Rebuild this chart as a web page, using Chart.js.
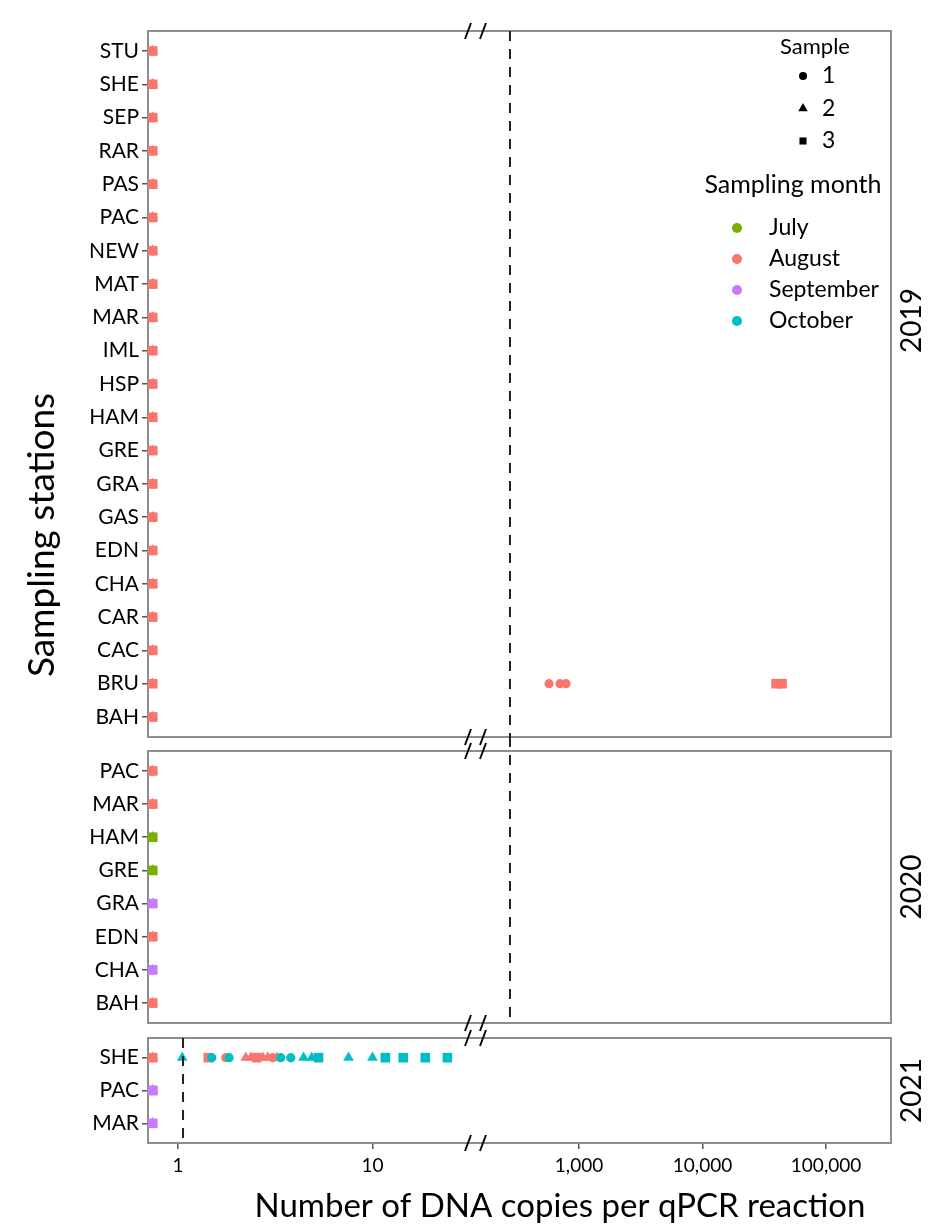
<!DOCTYPE html>
<html lang="en">
<head>
<meta charset="UTF-8">
<title>DNA copies per qPCR reaction</title>
<script src="https://cdn.jsdelivr.net/npm/chart.js"></script>
<style>
  html, body { margin: 0; padding: 0; background: #fff; }
</style>
</head>
<body>
<canvas id="grafico" width="948" height="1231"></canvas>
<script>
// ---- data ----
const years = ['2019', '2020', '2021'];
const stations2019 = ['STU', 'SHE', 'SEP', 'RAR', 'PAS', 'PAC', 'NEW', 'MAT', 'MAR', 'IML', 'HSP',
                      'HAM', 'GRE', 'GRA', 'GAS', 'EDN', 'CHA', 'CAR', 'CAC', 'BRU', 'BAH'];
const stations2020 = ['PAC', 'MAR', 'HAM', 'GRE', 'GRA', 'EDN', 'CHA', 'BAH'];
const stations2021 = ['SHE', 'PAC', 'MAR'];

const months = ['July', 'August', 'September', 'October'];
const monthColors = ['#7CAE00', '#F8766D', '#C77CFF', '#00BFC4'];
const samples = [1, 2, 3];
const sampleShapes = ['circle', 'triangle', 'rect'];

// broken x axis: low part and high part
const ticksLow = [1, 10];
const ticksHigh = [1000, 10000, 100000];
const rangeLow = [0.71, 34.1];
const rangeHigh = [146.5, 335700];

// no detection: drawn on the left edge of the axis  [station, month]
const EDGE = 0.74;
const zeros2019 = stations2019.map(s => [s, 'August']);
const zeros2020 = [['PAC', 'August'], ['MAR', 'August'], ['HAM', 'July'], ['GRE', 'July'],
                   ['GRA', 'September'], ['EDN', 'August'], ['CHA', 'September'], ['BAH', 'August']];
const zeros2021 = [['SHE', 'August'], ['PAC', 'August'], ['PAC', 'September'], ['MAR', 'September']];

// detections  [station, month, sample, copies]
const hits2019 = [
  ['BRU', 'August', 1, 572], ['BRU', 'August', 1, 702], ['BRU', 'August', 1, 785],
  ['BRU', 'August', 3, 39400], ['BRU', 'August', 3, 44000]
];
const hits2020 = [];
const hits2021 = [
  ['SHE', 'October', 2, 1.05],
  ['SHE', 'August', 3, 1.43], ['SHE', 'October', 1, 1.49],
  ['SHE', 'August', 1, 1.76], ['SHE', 'October', 1, 1.83],
  ['SHE', 'August', 2, 2.23], ['SHE', 'August', 2, 2.37], ['SHE', 'August', 3, 2.54],
  ['SHE', 'August', 2, 2.73], ['SHE', 'August', 2, 2.89], ['SHE', 'August', 1, 3.07],
  ['SHE', 'August', 2, 3.22],
  ['SHE', 'October', 1, 3.37], ['SHE', 'October', 1, 3.80],
  ['SHE', 'October', 2, 4.42], ['SHE', 'October', 2, 4.87], ['SHE', 'October', 3, 5.28],
  ['SHE', 'October', 2, 7.53], ['SHE', 'October', 2, 10.0],
  ['SHE', 'October', 3, 11.65], ['SHE', 'October', 3, 14.4], ['SHE', 'October', 3, 18.7],
  ['SHE', 'October', 3, 24.3]
];

// dashed threshold per year
const thresholds = [276, 276, 1.06];

// ---- datasets ----
const FONT = 'Lato, "Open Sans", sans-serif';
const yearZeros = [zeros2019, zeros2020, zeros2021];
const yearHits = [hits2019, hits2020, hits2021];

function pointSize(shape) {
  if (shape === 'circle') return 4.6;
  if (shape === 'triangle') return 6.2;
  return 6.8;
}

function makeSet(year, xAxisID, month, si, data) {
  const color = monthColors[months.indexOf(month)];
  const shape = sampleShapes[si];
  return {
    label: year + ' ' + month + ' sample ' + samples[si],
    xAxisID: xAxisID,
    yAxisID: 'y' + year,
    data: data,
    pointStyle: shape,
    pointRadius: pointSize(shape),
    pointBorderWidth: 0,
    backgroundColor: color,
    borderColor: color,
    showLine: false,
    clip: false
  };
}

const datasets = [];
years.forEach((year, yi) => {
  months.forEach(month => {
    const rows = yearZeros[yi].filter(r => r[1] === month);
    if (!rows.length) return;
    samples.forEach((smp, si) => {
      datasets.push(makeSet(year, 'xLo', month, si, rows.map(r => ({ x: EDGE, y: r[0] }))));
    });
  });
  months.forEach(month => {
    samples.forEach((smp, si) => {
      ['xLo', 'xHi'].forEach(axisId => {
        const rows = yearHits[yi].filter(r => r[1] === month && r[2] === smp &&
          ((r[3] < rangeLow[1]) === (axisId === 'xLo')));
        if (rows.length) {
          datasets.push(makeSet(year, axisId, month, si, rows.map(r => ({ x: r[3], y: r[0] }))));
        }
      });
    });
  });
});
datasets.reverse(); // chart.js paints index 0 last

// ---- scales ----
const LEFT = 148;
const tickGrid = { display: true, drawOnChartArea: false, drawTicks: true, tickLength: 6,
                   color: '#555', lineWidth: 1.5, offset: false };

function stationAxis(labels, size, order) {
  return {
    type: 'category', axis: 'y', position: 'left',
    stack: 'panels', stackWeight: size, weight: order,
    labels: labels, offset: false,
    afterBuildTicks: s => { s._startValue = -0.6; s._valueRange = labels.length - 1 + 1.2; },
    afterFit: s => { s.width = LEFT; },
    grid: tickGrid,
    border: { display: false },
    ticks: { color: '#000', font: { family: FONT, size: 21 }, padding: 3, autoSkip: false }
  };
}

function spacer(size, order) {
  return {
    type: 'linear', axis: 'y', position: 'left',
    stack: 'panels', stackWeight: size, weight: order,
    afterFit: s => { s.width = LEFT; },
    grid: { display: false }, border: { display: false }, ticks: { display: false }
  };
}

function copiesAxis(range, tickValues, size, order) {
  return {
    type: 'logarithmic', axis: 'x', position: 'bottom',
    stack: 'copies', stackWeight: size, weight: order,
    min: range[0], max: range[1],
    afterBuildTicks: s => { s.ticks = tickValues.map(v => ({ value: v })); },
    afterFit: s => { s.height = 88; },
    grid: tickGrid,
    border: { display: false },
    ticks: {
      color: '#000', font: { family: FONT, size: 19 }, padding: 5,
      maxRotation: 0, autoSkip: false,
      callback: v => Number(v).toLocaleString('en-US')
    }
  };
}

const panelIds = years.map(y => 'y' + y);

// ---- panel frames, breaks, dashed lines, labels, legend ----
const panelDecor = {
  id: 'panelDecor',
  beforeDatasetsDraw(chart) {
    const ctx = chart.ctx, a = chart.chartArea;
    ctx.save();
    ctx.strokeStyle = '#8c8c8c';
    ctx.lineWidth = 2;
    panelIds.forEach(id => {
      const s = chart.scales[id];
      ctx.strokeRect(a.left, s.top, a.right - a.left, s.bottom - s.top);
    });
    ctx.restore();
  },
  afterDatasetsDraw(chart) {
    const ctx = chart.ctx;
    ctx.save();
    // dashed thresholds
    ctx.strokeStyle = '#222';
    ctx.lineWidth = 2;
    ctx.setLineDash([10, 8]);
    thresholds.forEach((v, i) => {
      const s = chart.scales[panelIds[i]];
      const xs = v < rangeLow[1] ? chart.scales.xLo : chart.scales.xHi;
      const x = xs.getPixelForValue(v);
      let top = s.top;
      if (i > 0 && thresholds[i - 1] === v) top = chart.scales[panelIds[i - 1]].bottom;
      ctx.beginPath();
      ctx.moveTo(x, top);
      ctx.lineTo(x, s.bottom);
      ctx.stroke();
    });
    // axis break marks
    ctx.setLineDash([]);
    ctx.strokeStyle = '#000';
    const bx = chart.scales.xLo.right;
    panelIds.forEach(id => {
      const s = chart.scales[id];
      [s.top, s.bottom].forEach(y => {
        [bx - 8, bx + 7].forEach(x => {
          ctx.beginPath();
          ctx.moveTo(x - 3, y + 8);
          ctx.lineTo(x + 3, y - 8);
          ctx.stroke();
        });
      });
    });
    ctx.restore();
  },
  afterDraw(chart) {
    const ctx = chart.ctx;
    const draw = Chart.helpers.drawPoint;
    ctx.save();
    ctx.fillStyle = '#000';
    ctx.textAlign = 'center';
    ctx.textBaseline = 'middle';
    ctx.font = '33px ' + FONT;
    ctx.fillText('Number of DNA copies per qPCR reaction', 560, 1206);

    ctx.save();
    ctx.translate(42, 535);
    ctx.rotate(-Math.PI / 2);
    ctx.font = '37px ' + FONT;
    ctx.fillText('Sampling stations', 0, 0);
    ctx.restore();

    // facet strips
    ctx.font = '28px ' + FONT;
    const stripPos = [0.41, 0.5, 0.5];
    years.forEach((year, i) => {
      const s = chart.scales[panelIds[i]];
      ctx.save();
      ctx.translate(912, s.top + (s.bottom - s.top) * stripPos[i]);
      ctx.rotate(-Math.PI / 2);
      ctx.fillText(year, 0, 0);
      ctx.restore();
    });

    // legend: sample shapes
    ctx.font = '22px ' + FONT;
    ctx.fillText('Sample', 815, 47);
    ctx.textAlign = 'left';
    ctx.font = '23px ' + FONT;
    samples.forEach((smp, i) => {
      const y = 76 + i * 32.5;
      ctx.fillStyle = '#000';
      draw(ctx, { pointStyle: sampleShapes[i], radius: [4, 5.5, 5][i], rotation: 0, borderWidth: 0 }, 803, y);
      ctx.fillText(String(smp), 822, y);
    });
    // legend: months
    ctx.textAlign = 'center';
    ctx.font = '25px ' + FONT;
    ctx.fillText('Sampling month', 793, 185);
    ctx.textAlign = 'left';
    ctx.font = '23px ' + FONT;
    months.forEach((m, i) => {
      const y = 228 + i * 31;
      ctx.fillStyle = monthColors[i];
      draw(ctx, { pointStyle: 'circle', radius: 5, rotation: 0, borderWidth: 0 }, 737, y);
      ctx.fillStyle = '#000';
      ctx.fillText(m, 769, y);
    });
    ctx.restore();
  }
};

new Chart(document.getElementById('grafico'), {
  type: 'scatter',
  data: { datasets: datasets },
  options: {
    responsive: false,
    animation: false,
    events: [],
    layout: { padding: { top: 31, right: 57, bottom: 0, left: 0 } },
    plugins: { legend: { display: false }, tooltip: { enabled: false } },
    scales: {
      y2019: stationAxis(stations2019, 706, 5),
      gapA: spacer(14, 4),
      y2020: stationAxis(stations2020, 272, 3),
      gapB: spacer(15, 2),
      y2021: stationAxis(stations2021, 105, 1),
      xLo: copiesAxis(rangeLow, ticksLow, 328, 1),
      xHi: copiesAxis(rangeHigh, ticksHigh, 415, 2)
    }
  },
  plugins: [panelDecor]
});
</script>
</body>
</html>
